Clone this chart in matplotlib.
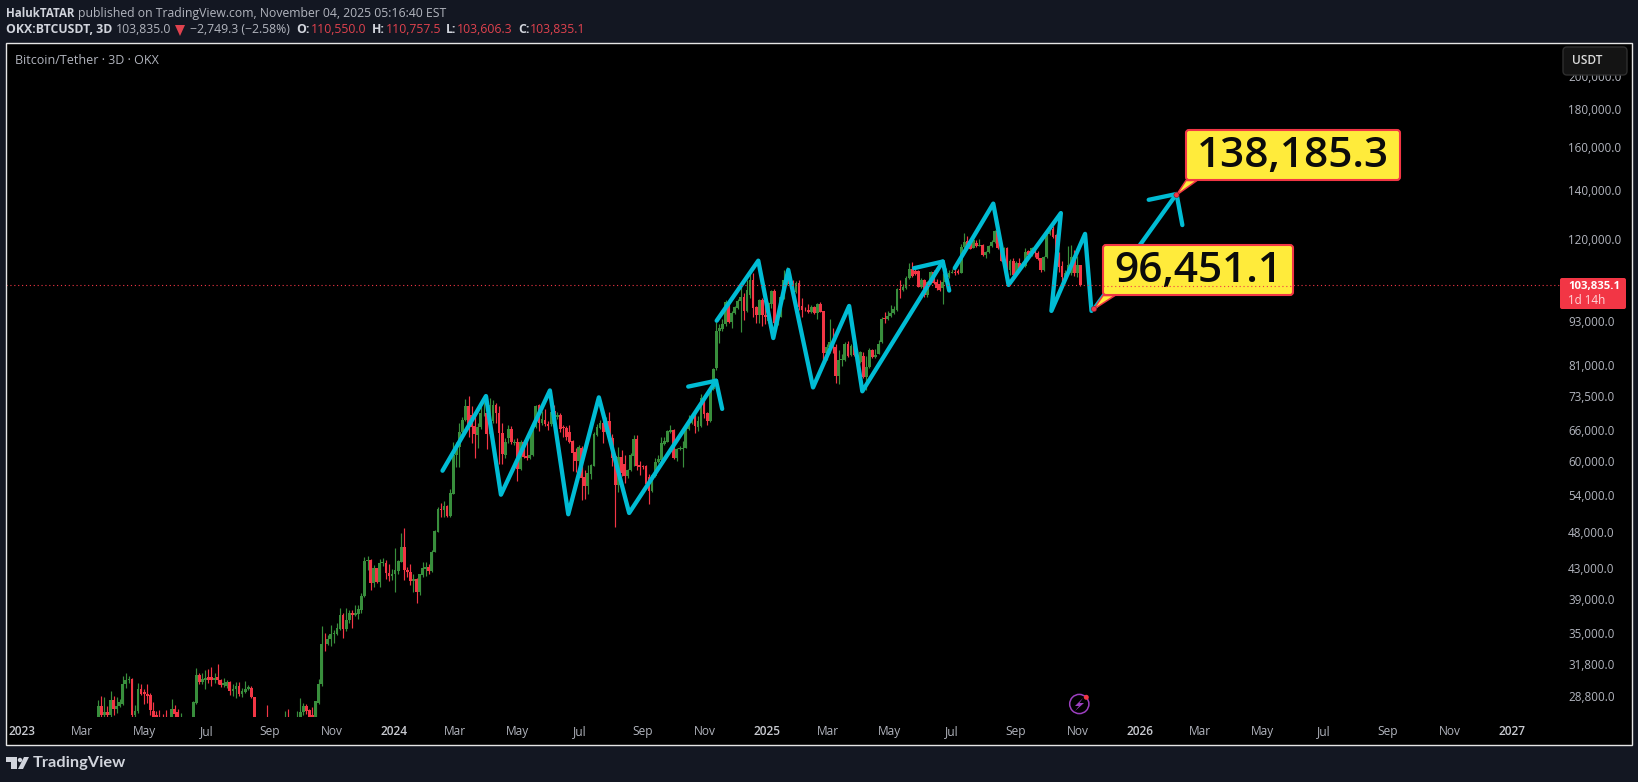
import numpy as np
import pandas as pd
import matplotlib
matplotlib.use('Agg')
import matplotlib.pyplot as plt
from matplotlib.patches import FancyBboxPatch, Polygon, Rectangle, Circle
from matplotlib.transforms import Affine2D

# prices in thousands of USDT, one value per 3D candle
first_bar = '2023-03-17'

opens_2023a = [26.9,27.9,27.1,27.4,27.1,28.4,27.65,27.9,28.1,29.85,
    30.25,30.4,27.1,27.5,29.45,29.15,28.95,28.85,27.5,27.1,
    27.0,26.9,26.8,26.5,26.9,27.65,27.4,26.8,26.6,26.0,
    26.2,26.5,28.2,30.7,30.05,30.25,30.55,30.55,30.3,30.55,
    30.25,29.75,29.7,30.1,29.2,29.4,29.7,29.0,29.15,29.45,
    29.5,28.7,26.0,26.2,26.0,26.2,25.9,26.1,26.4,26.1,
    26.5,26.3,26.8,26.6,26.4,26.6,26.9,27.4,27.9,27.55,27.1]
closes_2023a = [27.9,27.1,27.4,27.1,28.4,27.65,27.9,28.25,29.85,30.25,
    30.4,27.1,27.5,29.45,29.0,28.95,28.75,27.55,26.9,26.9,
    26.8,26.7,26.6,26.7,27.65,27.2,26.9,26.95,26.4,26.2,
    26.5,28.25,30.7,30.1,30.35,30.45,30.25,30.25,30.45,30.25,
    29.75,30.0,30.1,29.2,29.45,29.7,29.0,29.2,29.45,29.6,
    28.7,26.9,26.2,26.0,26.1,25.9,26.1,26.4,26.1,26.4,
    26.2,26.6,26.5,26.4,26.7,26.9,27.4,27.9,27.5,26.9,26.95]
highs_2023a = [28.4,28.75,28.7,27.9,29.2,28.75,28.7,28.55,30.6,30.95,
    30.6,30.5,27.95,30.0,29.9,29.4,29.85,29.1,28.25,27.5,
    27.55,27.2,27.55,26.9,28.5,28.0,27.6,27.3,26.8,26.4,
    26.7,28.3,31.4,30.95,30.95,31.2,31.3,31.5,30.95,31.8,
    30.4,30.5,30.3,30.2,29.85,30.05,30.05,29.5,30.2,29.8,
    29.7,28.7,26.6,26.4,26.3,27.95,26.4,26.7,26.6,26.6,
    26.8,27.5,27.6,26.8,26.9,27.45,28.6,28.2,28.1,27.6,27.85]
lows_2023a = [26.8,26.8,26.9,26.9,26.9,27.1,27.3,27.8,28.0,29.5,
    30.0,26.9,26.9,27.3,28.85,28.1,28.15,27.1,26.6,26.6,
    26.6,26.5,26.4,26.3,26.6,26.9,26.6,26.6,26.2,25.8,
    25.9,26.4,28.1,29.9,29.9,29.45,30.0,29.7,30.0,29.85,
    29.65,29.6,29.5,28.9,28.75,28.6,28.8,28.7,29.1,29.3,
    28.6,26.5,25.5,25.8,25.7,25.4,25.6,25.9,25.9,25.9,
    26.0,26.1,26.3,26.1,26.2,26.4,26.7,27.1,27.2,26.8,26.9]

opens_2023b = [27.0,28.2,29.9,33.9,33.9,34.4,34.9,34.95,35.5,37.1,
    35.5,36.5,37.3,37.1,37.25,37.7,39.3,43.9,44.0,41.0,
    42.9,41.1,43.6,43.6,42.3,41.9,42.1,42.6,43.8,45.9,
    42.7,42.4,41.2,41.5,39.9,42.0,42.85,43.1,42.5,45.2,
    48.1,51.7,51.4,52.1,50.5]
closes_2023b = [28.3,29.9,33.9,33.85,34.4,34.9,35.0,35.6,37.1,35.5,
    36.5,37.3,37.1,37.3,37.75,39.4,43.9,44.05,41.0,42.9,
    41.1,43.6,43.7,42.3,41.9,42.1,42.7,43.9,45.9,42.7,
    42.4,41.2,41.5,39.9,42.1,42.9,43.1,42.5,45.2,48.2,
    51.6,51.5,52.1,50.5,54.3]
highs_2023b = [28.3,30.4,35.8,35.0,34.8,35.9,35.4,36.2,37.9,37.3,
    37.9,37.7,37.7,38.2,38.25,39.7,44.5,44.6,44.2,43.35,
    43.0,44.2,44.3,44.0,43.5,42.8,45.7,44.1,47.9,48.7,
    43.1,43.5,42.2,41.6,42.15,43.8,43.75,43.5,45.5,48.4,
    52.0,52.6,52.9,52.3,54.9]
lows_2023b = [26.9,28.1,29.7,33.1,33.8,33.7,34.0,34.8,35.4,34.5,
    35.3,36.2,35.6,37.0,36.6,37.35,39.2,42.7,40.1,40.5,
    41.0,40.5,43.2,41.5,41.2,41.4,39.9,42.2,43.7,41.4,
    41.7,40.7,39.9,38.5,39.5,41.7,41.9,42.2,42.4,45.1,
    48.0,50.4,50.3,50.3,50.4]

opens_2024a = [54.2,61.2,62.7,65.7,68.1,71.3,69.3,67.0,65.0,66.8,
    69.6,69.7,65.2,67.9,71.5,69.8,65.5,61.1,64.5,66.3,
    63.4,63.7,58.6,63.7,60.9,60.6,61.1,66.7,71.4,67.5,
    68.3,67.4,67.3,70.1,68.9,69.3,66.7,66.6,65.7,63.9,
    61.8,60.0]
closes_2024a = [61.2,62.7,65.7,68.2,71.3,67.2,66.7,65.3,66.8,69.7,
    69.8,65.2,71.5,71.5,69.8,65.4,61.3,63.6,66.3,63.6,
    63.7,58.6,63.7,60.8,60.5,61.2,66.7,71.2,67.5,68.5,
    67.3,67.0,70.0,68.6,69.3,66.4,66.5,64.7,63.6,61.5,
    60.0,62.7]
highs_2024a = [63.7,63.7,67.5,68.8,72.8,73.5,71.3,69.7,67.6,71.2,
    72.1,73.4,73.0,72.6,72.0,71.3,67.5,64.5,67.1,67.0,
    64.2,64.4,64.1,64.1,65.0,65.4,67.7,71.5,71.8,70.2,
    70.6,68.0,71.4,71.4,70.0,69.7,67.2,67.0,67.1,64.0,
    62.4,63.0]
lows_2024a = [54.1,58.9,58.9,65.0,68.0,64.7,63.5,60.6,62.5,66.4,
    69.0,62.2,64.9,67.5,67.6,59.5,59.5,60.5,63.4,63.3,
    63.0,56.4,58.4,60.5,60.2,60.3,61.0,66.5,65.9,67.2,
    67.0,66.0,67.0,67.4,68.5,65.6,64.7,64.0,63.5,58.2,
    58.0,58.3]

opens_2024b = [62.5,57.0,55.5,57.6,59.1,65.0,66.6,67.6,65.6,68.0,
    64.5,60.9,55.7,60.8,59.4,57.3,58.3,61.0,64.3,59.2,
    59.0,59.1,57.0,54.7,57.2,59.8,60.1,63.3,63.7,65.7,
    66.2,60.6,62.2,62.3,62.5,66.4,67.6,69.7,66.8,66.9,
    73.0,69.6,67.9]
closes_2024b = [56.9,55.5,57.7,59.2,65.2,66.7,67.5,65.6,68.0,64.4,
    60.6,55.7,60.8,57.8,57.3,58.3,61.1,64.3,59.1,58.9,
    58.95,55.9,54.7,57.4,59.9,60.3,63.4,63.8,65.8,66.2,
    60.6,62.2,62.4,62.5,66.5,67.7,67.9,66.9,67.9,73.0,
    69.5,68.0,75.2]
highs_2024b = [62.9,58.3,59.2,59.4,65.6,67.3,68.2,68.0,68.9,70.0,
    65.3,61.2,62.6,62.0,61.2,58.6,61.5,65.0,65.1,60.0,
    59.3,59.3,57.6,57.6,60.6,61.2,64.6,64.6,66.2,67.1,
    66.4,62.4,62.8,63.8,66.8,69.2,68.9,70.1,69.0,73.9,
    73.2,70.0,75.6]
lows_2024b = [53.1,53.2,54.2,56.8,59.0,64.9,66.4,63.5,65.4,64.1,
    59.1,48.8,54.5,57.2,56.0,56.9,58.1,59.0,58.3,57.4,
    58.5,55.3,52.5,54.5,57.1,59.6,60.0,63.1,63.6,65.5,
    60.3,60.0,62.1,58.9,62.4,66.2,67.3,65.4,65.9,66.8,
    68.6,67.1,67.7]

opens_2025a = [75.2,80.3,90.1,90.6,92.0,98.7,92.6,95.3,96.8,98.9,
    100.2,96.0,100.9,105.7,97.1,94.7,99.3,94.8,93.0,97.9,
    102.0,92.4,94.2,99.8,104.5,106.0,104.5,101.8,104.7,97.3,
    96.3,96.3,95.5,97.2,95.4,98.0,95.8,84.2,85.7,87.0,85.6]
closes_2025a = [80.0,90.1,91.0,92.0,98.7,92.6,95.3,97.0,98.9,100.2,
    96.0,102.4,105.7,96.9,94.7,99.3,94.7,94.2,98.3,102.0,
    92.4,94.2,100.2,105.7,106.2,104.2,101.8,104.7,97.1,96.2,
    96.1,95.5,97.2,95.3,98.0,95.7,84.2,85.8,87.0,86.0,78.3]
highs_2025a = [80.3,92.6,92.0,93.5,99.3,99.0,95.8,97.5,99.5,103.4,
    101.5,105.7,108.0,108.0,97.5,99.6,99.8,98.3,98.6,102.4,
    102.6,94.5,100.5,109.0,110.0,108.0,105.7,105.2,105.7,100.0,
    97.1,98.0,97.6,97.5,98.2,98.5,96.0,86.5,93.5,91.0,86.6]
lows_2025a = [75.0,79.8,86.7,90.0,91.5,92.3,90.9,95.0,96.5,89.7,
    93.3,95.5,100.0,94.0,92.4,92.4,91.5,92.0,92.4,96.9,
    92.0,91.9,94.0,99.5,104.0,103.0,99.8,101.4,96.2,94.0,
    95.8,95.2,95.2,95.0,93.5,95.5,81.6,82.3,84.0,84.2,76.5]

opens_2025b = [78.2,82.2,82.2,86.5,83.6,86.0,83.8,81.8,83.2,78.1,
    80.5,84.9,83.1,83.9,87.0,93.9,93.6,94.3,95.3,96.3,
    102.7,102.4,103.0,106.4,109.4,108.7,108.7,103.4,105.7,100.8,
    104.7,108.3,105.0,104.3,103.0,105.0,106.7,108.0,108.3,108.7,
    108.0,117.2,119.4,118.6,116.9,118.6,117.5,117.8,114.2,115.2,
    117.4,118.9,123.0,118.2,112.2,116.7,109.0,112.2,107.5,111.4,
    110.0,110.4,115.6,114.2,116.6,115.0,113.0,109.0,113.6,122.0,
    123.9,121.5,114.8,110.2,106.6,107.8,107.8,113.6,107.8,110.55]
closes_2025b = [82.2,82.5,86.5,83.3,86.0,83.6,82.1,84.4,78.1,80.5,
    84.9,83.1,83.6,86.5,93.6,93.6,94.5,95.3,96.5,102.7,
    102.4,103.4,106.4,109.4,107.0,107.7,103.4,105.7,100.8,105.0,
    108.3,104.7,103.0,102.4,105.0,107.0,108.0,108.3,108.0,108.0,
    117.2,119.1,117.0,116.5,119.5,117.5,117.8,114.2,115.4,117.4,
    118.9,123.0,116.8,112.2,116.7,109.0,112.2,107.3,111.4,109.8,
    111.0,115.3,114.2,116.6,115.0,112.8,109.0,113.6,122.0,123.9,
    120.8,114.5,110.0,106.6,107.8,110.7,113.6,107.8,110.7,103.8351]
highs_2025b = [85.0,83.8,87.0,87.2,86.4,88.1,84.8,84.7,84.4,83.4,
    85.4,85.2,85.1,87.5,94.2,95.5,96.0,97.8,97.5,103.0,
    105.7,104.3,106.8,111.4,111.7,109.5,109.0,106.4,106.0,105.4,
    108.6,108.9,105.9,105.7,108.0,109.5,109.0,109.2,111.0,109.2,
    118.2,122.5,121.0,120.0,120.6,119.5,120.0,118.2,115.6,118.0,
    119.5,123.6,124.6,118.8,117.0,117.0,112.7,113.0,112.0,113.0,
    111.6,116.6,116.0,117.2,117.0,115.5,113.3,114.0,122.6,125.4,
    125.0,122.0,115.2,112.0,109.0,117.4,118.0,116.0,114.0,110.7575]
lows_2025b = [76.2,80.8,81.9,83.0,83.4,83.2,81.4,81.5,77.8,74.9,
    80.3,82.9,82.8,83.7,86.8,92.3,93.3,94.0,95.0,96.0,
    99.9,102.0,102.7,105.8,106.7,107.4,103.2,103.0,100.2,100.1,
    104.4,104.4,102.4,102.0,98.0,104.6,106.4,107.8,107.2,107.7,
    107.8,116.9,116.8,116.2,116.7,117.0,117.3,114.0,113.3,115.0,
    117.0,118.6,116.4,112.0,111.8,108.6,107.3,107.0,107.2,109.4,
    109.6,110.0,113.8,114.0,113.4,112.4,108.2,108.7,113.3,121.5,
    120.4,114.0,108.4,105.0,105.5,107.3,107.3,107.0,106.5,103.6063]

# hand-drawn lines, bar position and price (thousands)
zigzag1_bars = [112.5,126.7,131.6,147.6,153.6,163.6,173.5,201.9]
zigzag1_prices = [58.2,73.5,54.0,74.8,50.8,73.2,51.0,77.1]
head1_bars = [192.8,201.9,203.9]
head1_prices = [75.7,77.1,70.6]
zigzag2_bars = [202.1,215.7,220.6,225.5,233.6,245.4,249.7,276.0]
zigzag2_prices = [93.0,112.2,88.1,109.0,75.5,97.4,74.6,111.9]
head2_bars = [266.6,276.0,278.1]
head2_prices = [109.6,111.9,102.2]
zigzag3_bars = [279.9,292.5,297.5,314.6,311.5,322.5,324.6]
zigzag3_prices = [109.6,134.1,104.0,130.2,95.9,122.0,95.9]
target_bars = [325.4,352.4]
target_prices = [96.4511,138.1853]
head3_bars = [343.3,352.4,354.3]
head3_prices = [135.7,138.1853,125.4]

price_ticks = [200,180,160,140,120,105,93,81,73.5,66,60,54,48,43,39,35,31.8,28.8]
last_price = 103.8351

BG = '#131722'
RED = '#F23645'
GREEN = '#388E3C'
CYAN = '#00BCD4'
GREY = '#B2B5BE'

plt.rcParams['font.family'] = ['Open Sans', 'DejaVu Sans']

opens = np.array(opens_2023a + opens_2023b + opens_2024a + opens_2024b + opens_2025a + opens_2025b)
closes = np.array(closes_2023a + closes_2023b + closes_2024a + closes_2024b + closes_2025a + closes_2025b)
highs = np.array(highs_2023a + highs_2023b + highs_2024a + highs_2024b + highs_2025a + highs_2025b)
lows = np.array(lows_2023a + lows_2023b + lows_2024a + lows_2024b + lows_2025a + lows_2025b)
bars = np.arange(len(opens))

W, H = 1638, 782
fig = plt.figure(figsize=(W / 100, H / 100), dpi=100, facecolor=BG)
px = Affine2D().scale(1, -1).translate(0, H)  # layout in image pixels

fig.add_artist(Rectangle((6, 43), 1626, 702, fc='black', ec='none', transform=px, zorder=-1))

ax = fig.add_axes([6 / W, 1 - 717 / H, (1563 - 6) / W, (717 - 43) / H], zorder=0)
ax.set_facecolor('black')
for s in ax.spines.values():
    s.set_visible(False)
ax.set_yscale('log')
ax.set_ylim(26.96, 221.5)
ax.set_xlim(-30.16, 478.7)

# candles
colors = np.where(closes >= opens, GREEN, RED)
ax.vlines(bars, lows, highs, colors=colors, lw=0.85, zorder=2)
ax.bar(bars, np.abs(closes - opens), bottom=np.minimum(opens, closes), width=0.9,
       color=colors, linewidth=0, zorder=2.1)

# drawings
for xs, ys in [(zigzag1_bars, zigzag1_prices), (head1_bars, head1_prices),
               (zigzag2_bars, zigzag2_prices), (head2_bars, head2_prices),
               (zigzag3_bars, zigzag3_prices), (target_bars, target_prices),
               (head3_bars, head3_prices)]:
    ax.plot(xs, ys, color=CYAN, lw=3.1, solid_capstyle='round', solid_joinstyle='round', zorder=3)

ax.axhline(last_price, color=RED, lw=0.8, ls=(0, (1, 2.5)), zorder=6)

# axes ticks
start = pd.Timestamp(first_bar)
months = pd.date_range('2023-01-01', '2027-01-01', freq='2MS')
ax.set_xticks([(m - start).days / 3 for m in months])
ax.set_xticklabels([str(m.year) if m.month == 1 else m.strftime('%b') for m in months])
ax.tick_params(axis='x', length=0, pad=5.5, labelsize=8.6, labelcolor=GREY)
for m, lab in zip(months, ax.get_xticklabels()):
    if m.month == 1:
        lab.set_fontweight('semibold')
        lab.set_color('#C8CAD0')

ax.yaxis.tick_right()
ax.set_yticks(price_ticks)
ax.set_yticklabels([f'{t * 1000:,.1f}' for t in price_ticks])
ax.minorticks_off()
ax.tick_params(axis='y', length=0, pad=3.7, labelsize=8.4, labelcolor=GREY)

# callouts
def callout(label, box, tip, base, size):
    x0, y0, x1, y1 = box
    tail = Polygon([tip, (base[0], y1 + 0.5), (base[1], y1 + 0.5)], closed=True, fc='#FFEB3B', ec=RED,
                   lw=1.1, transform=px, zorder=4)
    fig.add_artist(tail)
    fig.add_artist(FancyBboxPatch((x0 + 2, y0 + 2), x1 - x0 - 4, y1 - y0 - 4, boxstyle='round,pad=2,rounding_size=3',
                                  fc='#FFEB3B', ec=RED, lw=1.5, transform=px, zorder=5))
    fig.add_artist(Circle(tip, 2.6, fc=RED, ec='#7a1520', lw=0.4, transform=px, zorder=6))
    fig.text((x0 + x1) / 2, (y0 + y1) / 2 + 1, label, color='#0b0b0b', fontsize=size, fontweight='semibold',
             ha='center', va='center', transform=px, zorder=7)

callout('138,185.3', (1186, 130, 1400, 180), (1176.5, 195), (1186, 1197), 30.5)
callout('96,451.1', (1103, 245, 1293, 295), (1094, 309), (1103, 1115), 30.5)

# keep the last-price line above the lower callout box
fig.add_artist(plt.Line2D([1103, 1293], [286.3, 286.3], color=RED, lw=0.8, ls=(0, (1, 2.5)), transform=px, zorder=8))

# frame and price scale furniture
fig.add_artist(Rectangle((5.5, 42.5), 1626.5, 702.5, fc='none', ec='#E6E6E6', lw=1, transform=px, zorder=9))
fig.add_artist(FancyBboxPatch((1565, 49), 60, 24, boxstyle='round,pad=2,rounding_size=4', fc='#141414', ec='#2E2E2E',
                              lw=1, transform=px, zorder=5))
fig.text(1572, 60.5, 'USDT', color='#DBDBDB', fontsize=8.6, fontweight='semibold', va='center', transform=px, zorder=6)

fig.add_artist(FancyBboxPatch((1561, 279), 64, 29, boxstyle='round,pad=1,rounding_size=2', fc=RED, ec='none',
                              transform=px, zorder=5))
fig.text(1568.5, 286, '103,835.1', color='white', fontsize=8.2, fontweight='bold', va='center', transform=px, zorder=6)
fig.text(1568.5, 300, '1d 14h', color='#FFD5D8', fontsize=8.4, va='center', transform=px, zorder=6)

fig.text(15, 60, 'Bitcoin/Tether · 3D · OKX', color=GREY, fontsize=9, va='center', transform=px)

# header
TXT = '#D1D4DC'
VAL = '#E0424E'
fig.text(6.3, 13.5, 'HalukTATAR', color=TXT, fontsize=8.3, fontweight='bold', va='center', transform=px)
fig.text(78.5, 13.5, 'published on TradingView.com, November 04, 2025 05:16:40 EST', color=GREY, fontsize=8.8,
         va='center', transform=px)
fig.text(6.3, 29.5, 'OKX:BTCUSDT, 3D', color=TXT, fontsize=8.8, fontweight='bold', va='center', transform=px)
fig.text(115.5, 29.5, '103,835.0', color=GREY, fontsize=8.8, va='center', transform=px)
fig.add_artist(Polygon([(175, 25), (185, 25), (180, 36)], closed=True, fc=VAL, ec='none', transform=px))
fig.text(189.8, 29.5, '\u22122,749.3 (\u22122.58%)', color=GREY, fontsize=8.8, va='center', transform=px)
for letter, lx, value, vx in [('O:', 296.6, '110,550.0', 310.4), ('H:', 371.7, '110,757.5', 385.5),
                              ('L:', 445.6, '103,606.3', 456.7), ('C:', 518, '103,835.1', 529.9)]:
    fig.text(lx, 29.5, letter, color=TXT, fontsize=8.8, fontweight='bold', va='center', transform=px)
    fig.text(vx, 29.5, value, color=VAL, fontsize=8.8, va='center', transform=px)

# TradingView logo
LOGO = '#D1D4DC'
fig.add_artist(Polygon([(6, 757), (17, 757), (17, 769), (11, 769), (11, 762), (6, 762)], closed=True, fc=LOGO, ec='none', transform=px))
fig.add_artist(Circle((20, 760), 2.2, fc=LOGO, ec='none', transform=px))
fig.add_artist(Polygon([(24, 757), (29, 757), (23, 769), (18, 769)], closed=True, fc=LOGO, ec='none', transform=px))
fig.text(33, 763, 'TradingView', color=LOGO, fontsize=11.8, fontweight='bold', va='center', family='Lato', transform=px)

# flash icon
fig.add_artist(Circle((1079.3, 704), 9.6, fc='none', ec='#9C3FC0', lw=1.1, transform=px))
fig.add_artist(Polygon([(1083, 698), (1075, 706), (1079, 706), (1075, 711), (1084, 703), (1079.5, 703)], closed=True,
                       fc='#9C3FC0', ec='none', transform=px))
fig.add_artist(Circle((1086.3, 697.3), 2.5, fc=RED, ec='none', transform=px))

fig.savefig('out.png', dpi=100, facecolor=BG)
